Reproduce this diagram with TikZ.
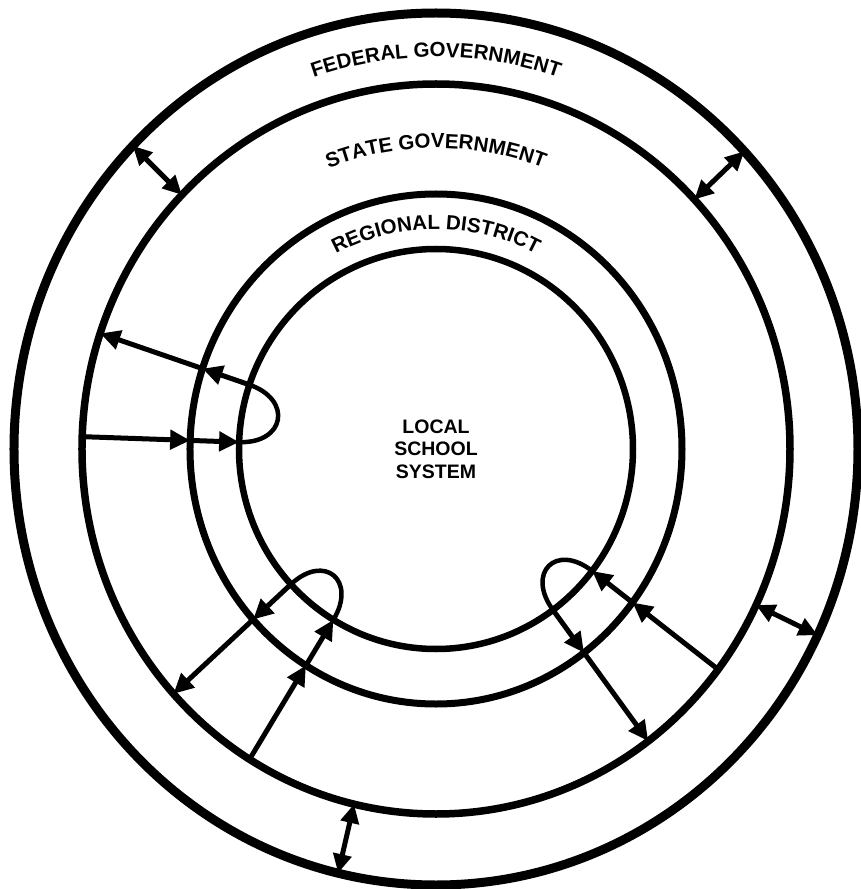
\documentclass[tikz,border=0pt]{standalone}
\usepackage{fontspec}
\usepackage{tikz}
\usetikzlibrary{arrows.meta,shapes.geometric,decorations.text}
\newfontfamily\ringfont{Liberation Sans}

\begin{document}
\begin{tikzpicture}[x=1pt,y=1pt,
    ring/.style={ellipse,draw,inner sep=0pt,outer sep=0pt},
    flow/.style={line width=5pt,-{Triangle[length=20pt,width=19pt]}},
    twoway/.style={line width=5pt,{Triangle[length=19pt,width=18pt]}-{Triangle[length=19pt,width=18pt]}},
    loopline/.style={line width=4.5pt},
    ringtext/.style={decorate,decoration={text along path,text align=center,
        text={|\ringfont\bfseries\fontsize{20.5}{21}\selectfont|#1}}}]
    % Frame, origin at the centre of the rings
    \useasboundingbox (-436,-440) rectangle (424,449);

    % Rings
    \node[ring,line width=9pt,minimum width=844pt,minimum height=872pt] (federal) at (0,0) {};
    \node[ring,line width=7.5pt,minimum width=708pt,minimum height=730pt] (state) at (0,0) {};
    \node[ring,line width=7pt,minimum width=492pt,minimum height=510pt] (region) at (0,0) {};
    \node[ring,line width=6.5pt,minimum width=394pt,minimum height=400pt,align=center,
        font=\ringfont\bfseries\fontsize{19.5}{22.5}\selectfont] (local) at (0,0) {LOCAL\\SCHOOL\\SYSTEM};

    % Ring labels
    \path[ringtext=FEDERAL GOVERNMENT] (180:380 and 392) arc[start angle=180,end angle=0,x radius=380,y radius=392];
    \path[ringtext=STATE GOVERNMENT] (180:298 and 301) arc[start angle=180,end angle=0,x radius=298,y radius=301];
    \path[ringtext=REGIONAL DISTRICT] (180:216 and 220) arc[start angle=180,end angle=0,x radius=216,y radius=220];

    % Federal <-> state
    \draw[twoway] (federal.135) -- (state.135);
    \draw[twoway] (federal.44) -- (state.44);
    \draw[twoway] (federal.334) -- (state.334);
    \draw[twoway] (federal.257) -- (state.257);

    % Left loop
    \draw[flow] (state.178) -- (region.178);
    \draw[flow] (region.178) -- (local.178);
    \draw[loopline] (local.178) .. controls +(358:46) and +(341:46) .. (local.161);
    \draw[flow] (local.161) -- (region.161);
    \draw[flow] (region.161) -- (state.161);

    % Lower left loop
    \draw[flow] (state.239) -- (region.239);
    \draw[flow] (region.239) -- (local.239);
    \draw[loopline] (local.239) .. controls +(59:46) and +(43:46) .. (local.223);
    \draw[flow] (local.223) -- (region.223);
    \draw[flow] (region.223) -- (state.223);

    % Lower right loop
    \draw[flow] (state.322) -- (region.322);
    \draw[flow] (region.322) -- (local.322);
    \draw[loopline] (local.322) .. controls +(142:46) and +(126:46) .. (local.306);
    \draw[flow] (local.306) -- (region.306);
    \draw[flow] (region.306) -- (state.306);
\end{tikzpicture}
\end{document}
